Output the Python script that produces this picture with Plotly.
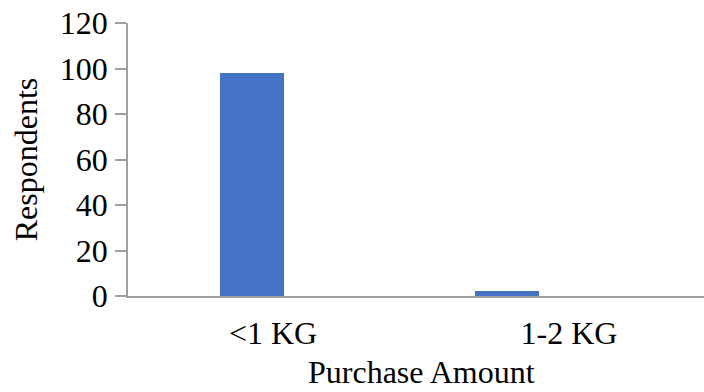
import plotly.graph_objects as go

# Purchase amount survey data
categories = ["<1 KG", "1-2 KG"]
respondents = [98, 2]
y_ticks = [0, 20, 40, 60, 80, 100, 120]

FONT = "Liberation Serif, Times New Roman, serif"
AXIS_COLOR = "#A0A0A0"
TEXT_SIZE = 32

fig = go.Figure(
    go.Bar(
        x=categories,
        y=respondents,
        marker=dict(color="#4472C4", line=dict(width=0)),
        width=0.216,
        offset=[-0.179, -0.318],
    )
)

fig.update_layout(
    width=704,
    height=392,
    margin=dict(l=128, r=0, t=23, b=96),
    paper_bgcolor="white",
    plot_bgcolor="white",
    showlegend=False,
    font=dict(family=FONT, size=TEXT_SIZE, color="black"),
    bargap=0,
)

fig.update_xaxes(
    type="category",
    range=[-0.490, 1.456],
    showline=True,
    linecolor=AXIS_COLOR,
    linewidth=1.5,
    ticks="",
    showgrid=False,
    tickfont=dict(family=FONT, size=TEXT_SIZE),
    ticklabelstandoff=8,
)

# x-axis title, centred under the full category span
fig.add_annotation(
    text="Purchase Amount",
    xref="paper", yref="paper",
    x=0.51, y=0,
    yshift=-56,
    xanchor="center", yanchor="top",
    showarrow=False,
    font=dict(family=FONT, size=TEXT_SIZE, color="black"),
)

fig.update_yaxes(
    range=[0, 120],
    tickvals=y_ticks,
    showline=True,
    linecolor=AXIS_COLOR,
    linewidth=1.5,
    ticks="outside",
    ticklen=11,
    tickwidth=1.5,
    tickcolor=AXIS_COLOR,
    showgrid=False,
    zeroline=False,
    tickfont=dict(family=FONT, size=TEXT_SIZE),
    ticklabelstandoff=1,
    title=dict(text="Respondents", font=dict(family=FONT, size=TEXT_SIZE), standoff=13),
)

fig.write_html("out.html")
